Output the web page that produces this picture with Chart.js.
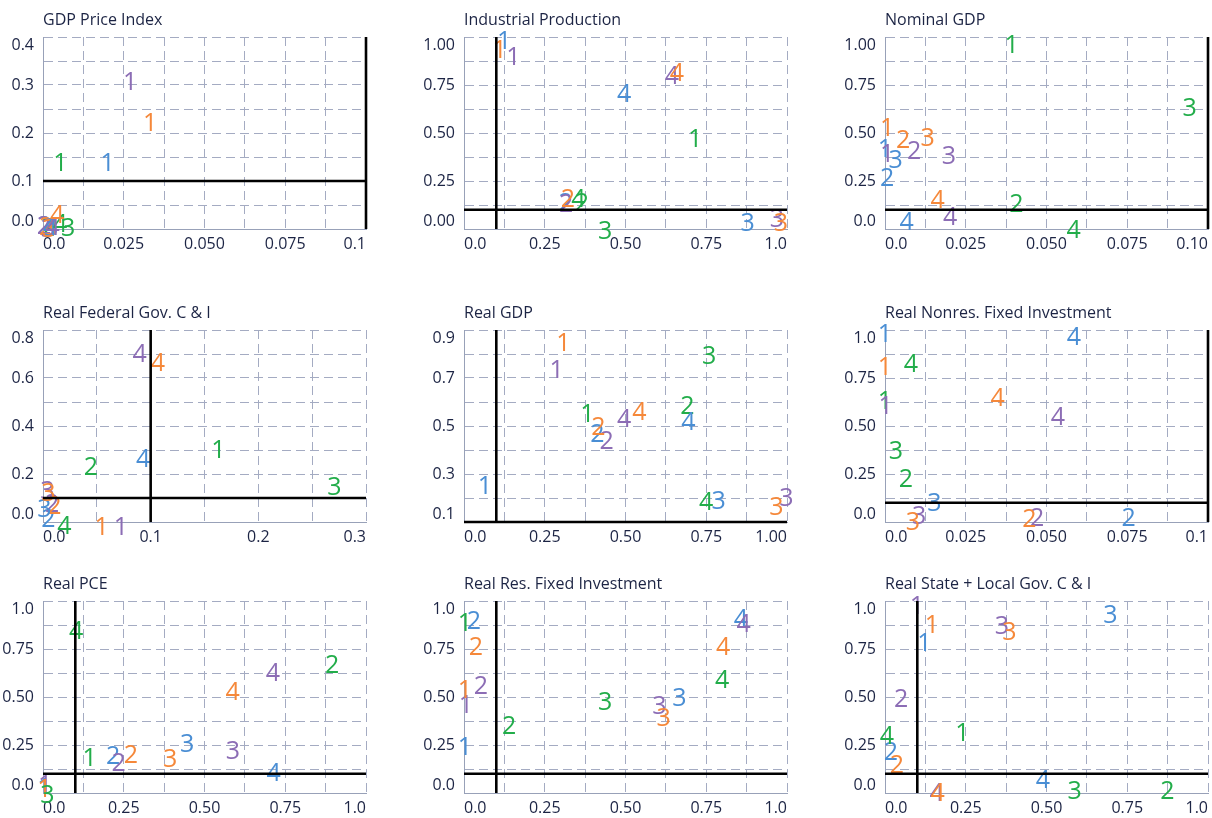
<!DOCTYPE html>
<html>
<head>
<meta charset="utf-8">
<title>Forecast evaluation panels</title>
<script src="https://cdn.jsdelivr.net/npm/chart.js@4.4.0/dist/chart.umd.min.js"></script>
<style>
  html, body { margin: 0; padding: 0; background: #fff; overflow: hidden; }
  body { width: 1212px; height: 818px; position: relative; }
  canvas { position: absolute; }
</style>
</head>
<body>
<canvas id="p0"></canvas>
<canvas id="p1"></canvas>
<canvas id="p2"></canvas>
<canvas id="p3"></canvas>
<canvas id="p4"></canvas>
<canvas id="p5"></canvas>
<canvas id="p6"></canvas>
<canvas id="p7"></canvas>
<canvas id="p8"></canvas>
<script>
// Point labels (1-4) and the reference line value
const pointLabels = ['1', '2', '3', '4'];
const threshold = 0.1;

// Series colours: blue, green, purple, orange (drawing order)
const seriesColors = ['#4a8ed4', '#22ad4a', '#8c6db5', '#f5883a'];

// Tick labels
const ticksTenth = ['0.0', '0.025', '0.050', '0.075', '0.1'];
const ticksTenth10 = ['0.0', '0.025', '0.050', '0.075', '0.10'];
const ticksUnit = ['0.0', '0.25', '0.50', '0.75', '1.0'];
const ticksUnit00 = ['0.00', '0.25', '0.50', '0.75', '1.00'];
const ticksUnitEnd00 = ['0.0', '0.25', '0.50', '0.75', '1.00'];
const ticksPriceY = ['0.0', '0.1', '0.2', '0.3', '0.4'];
const ticksFedX = ['0.0', '0.1', '0.2', '0.3'];
const ticksFedY = ['0.0', '0.2', '0.4', '0.6', '0.8'];
const ticksGdpY = ['0.1', '0.3', '0.5', '0.7', '0.9'];

// [x, y] for labels 1..4, one array per series
// GDP Price Index
const gdpPriceBlue   = [[0.020, 0.139], [0.0004, 0.008], [0.0025, 0.004], [0.0022, 0.006]];
const gdpPriceGreen  = [[0.0054, 0.1405], [0.0015, 0.005], [0.0078, 0.005], [0.0053, 0.013]];
const gdpPricePurple = [[0.027, 0.308], [0.0003, 0.009], [0.0015, 0.003], [0.003, 0.007]];
const gdpPriceOrange = [[0.0332, 0.2235], [0.001, 0.006], [0.002, 0.003], [0.0044, 0.032]];

// Industrial Production
const indProdBlue   = [[0.124, 0.983], [0.315, 0.143], [0.878, 0.035], [0.496, 0.706]];
const indProdGreen  = [[0.716, 0.472], [0.365, 0.142], [0.437, -0.005], [0.354, 0.161]];
const indProdPurple = [[0.153, 0.900], [0.316, 0.137], [0.969, 0.057], [0.644, 0.800]];
const indProdOrange = [[0.110, 0.939], [0.322, 0.163], [0.981, 0.035], [0.659, 0.818]];

// Nominal GDP
const nomGdpBlue   = [[0.0, 0.420], [0.0007, 0.273], [0.0033, 0.363], [0.0067, 0.040]];
const nomGdpGreen  = [[0.0392, 0.965], [0.0407, 0.138], [0.0943, 0.633], [0.0584, -0.002]];
const nomGdpPurple = [[0.0007, 0.394], [0.009, 0.412], [0.0198, 0.386], [0.0202, 0.066]];
const nomGdpOrange = [[0.0007, 0.533], [0.0056, 0.467], [0.0132, 0.4775], [0.0163, 0.156]];

// Real Federal Gov. C & I
const fedGovBlue   = [null, [0.005, 0.018], [0.0012, 0.059], [0.0929, 0.266]];
const fedGovGreen  = [[0.163, 0.3036], [0.0446, 0.2315], [0.2706, 0.148], [0.0198, -0.011]];
const fedGovPurple = [[0.0724, -0.018], [0.0086, 0.080], [0.004, 0.134], [0.0898, 0.706]];
const fedGovOrange = [[0.0544, -0.018], [0.0105, 0.072], [0.005, 0.126], [0.1068, 0.668]];

// Real GDP
const realGdpBlue   = [[0.065, 0.255], [0.413, 0.470], [0.788, 0.190], [0.695, 0.519]];
const realGdpGreen  = [[0.382, 0.553], [0.692, 0.588], [0.759, 0.796], [0.750, 0.186]];
const realGdpPurple = [[0.287, 0.736], [0.442, 0.4425], [0.998, 0.204], [0.496, 0.5326]];
const realGdpOrange = [[0.308, 0.8515], [0.416, 0.498], [0.967, 0.168], [0.543, 0.5645]];

// Real Nonres. Fixed Investment
const nonresBlue   = [[0.0, 0.983], [0.0754, 0.024], [0.0153, 0.104], [0.0585, 0.969]];
const nonresGreen  = [[0.0, 0.636], [0.0065, 0.229], [0.0034, 0.3726], [0.008, 0.827]];
const nonresPurple = [[0.0002, 0.610], [0.0471, 0.024], [0.0106, 0.038], [0.0535, 0.553]];
const nonresOrange = [[0.0, 0.813], [0.0447, 0.020], [0.0086, 0.003], [0.0349, 0.653]];

// Real PCE
const pceBlue   = [[0.004, 0.030], [0.217, 0.196], [0.446, 0.260], [0.714, 0.109]];
const pceGreen  = [[0.1445, 0.1875], [0.895, 0.670], [0.014, -0.003], [0.103, 0.847]];
const pcePurple = [[0.007, 0.045], [0.234, 0.161], [0.588, 0.226], [0.712, 0.630]];
const pceOrange = [[0.004, 0.025], [0.272, 0.201], [0.394, 0.184], [0.587, 0.531]];

// Real Res. Fixed Investment
const resBlue   = [[0.003, 0.243], [0.031, 0.903], [0.667, 0.500], [0.857, 0.913]];
const resGreen  = [[0.003, 0.890], [0.140, 0.356], [0.437, 0.479], [0.799, 0.595]];
const resPurple = [[0.006, 0.465], [0.052, 0.561], [0.605, 0.457], [0.866, 0.885]];
const resOrange = [[0.003, 0.543], [0.037, 0.764], [0.618, 0.396], [0.802, 0.764]];

// Real State + Local Gov. C & I
const stateBlue   = [[0.122, 0.786], [0.0186, 0.219], [0.698, 0.930], [0.489, 0.075]];
const stateGreen  = [[0.240, 0.318], [0.874, 0.014], [0.587, 0.017], [0.006, 0.300]];
const statePurple = [[0.099, 0.977], [0.050, 0.497], [0.362, 0.873], [0.160, 0.005]];
const stateOrange = [[0.145, 0.878], [0.037, 0.149], [0.385, 0.844], [0.163, 0.003]];

const panels = [
  { title: 'GDP Price Index', x: [0, 0.1, 0.0125], y: [0, 0.4, 0.05], xTicks: ticksTenth, yTicks: ticksPriceY,
    series: [gdpPriceBlue, gdpPriceGreen, gdpPricePurple, gdpPriceOrange] },
  { title: 'Industrial Production', x: [0, 1, 0.125], y: [0, 1, 0.125], xTicks: ticksUnit, yTicks: ticksUnit00,
    series: [indProdBlue, indProdGreen, indProdPurple, indProdOrange] },
  { title: 'Nominal GDP', x: [0, 0.1, 0.0125], y: [0, 1, 0.125], xTicks: ticksTenth10, yTicks: ticksUnitEnd00,
    series: [nomGdpBlue, nomGdpGreen, nomGdpPurple, nomGdpOrange] },
  { title: 'Real Federal Gov. C & I', x: [0, 0.3, 0.05], y: [0, 0.8, 0.1], xTicks: ticksFedX, yTicks: ticksFedY,
    series: [fedGovBlue, fedGovGreen, fedGovPurple, fedGovOrange] },
  { title: 'Real GDP', x: [0, 1, 0.125], y: [0.1, 0.9, 0.1], xTicks: ticksUnitEnd00, yTicks: ticksGdpY,
    series: [realGdpBlue, realGdpGreen, realGdpPurple, realGdpOrange] },
  { title: 'Real Nonres. Fixed Investment', x: [0, 0.1, 0.0125], y: [0, 1, 0.125], xTicks: ticksTenth, yTicks: ticksUnit,
    series: [nonresBlue, nonresGreen, nonresPurple, nonresOrange] },
  { title: 'Real PCE', x: [0, 1, 0.125], y: [0, 1, 0.125], xTicks: ticksUnit, yTicks: ticksUnit,
    series: [pceBlue, pceGreen, pcePurple, pceOrange] },
  { title: 'Real Res. Fixed Investment', x: [0, 1, 0.125], y: [0, 1, 0.125], xTicks: ticksUnit, yTicks: ticksUnit,
    series: [resBlue, resGreen, resPurple, resOrange] },
  { title: 'Real State + Local Gov. C & I', x: [0, 1, 0.125], y: [0, 1, 0.125], xTicks: ticksUnit, yTicks: ticksUnit,
    series: [stateBlue, stateGreen, statePurple, stateOrange] }
];

// Look
const fontFamily = '"Open Sans", "Noto Sans", sans-serif';
const inkColor = '#1c2444';
const gridColor = '#a4abc2';
const axisColor = '#98a1b8';
const colLefts = [43, 464, 885];
const rowTops = [37, 330, 601];
const plotW = 323, plotH = 192;
const yAxisW = 43, xAxisH = 30, titleH = 34, padRight = 12;

// First/last y labels sit inside the axis range
const flushYLabels = {
  id: 'flushYLabels',
  beforeDraw(chart) {
    const items = chart.scales.y.getLabelItems();
    if (!items.length) return;
    items[0].options.textBaseline = 'bottom';
    items[items.length - 1].options.textBaseline = 'top';
  }
};

// Draw each point as its number, glyph centred on the point
const numberMarks = {
  id: 'numberMarks',
  beforeDatasetsDraw(chart) {
    const ctx = chart.ctx;
    ctx.save();
    ctx.font = '25px ' + fontFamily;
    ctx.textAlign = 'center';
    ctx.textBaseline = 'alphabetic';
    const half = ctx.measureText('1234').actualBoundingBoxAscent / 2;
    pointLabels.forEach((label, k) => {
      chart.data.datasets.forEach((ds, i) => {
        if (!ds.markColor) return;
        const raw = ds.data[k];
        if (!raw || raw.x == null) return;
        const el = chart.getDatasetMeta(i).data[k];
        ctx.fillStyle = ds.markColor;
        ctx.fillText(label, el.x, el.y + half);
      });
    });
    ctx.restore();
  }
};

function axisOptions(range, labels, horizontal) {
  const [min, max, step] = range;
  return {
    type: 'linear',
    min: min,
    max: max,
    afterBuildTicks: scale => {
      const n = Math.round((max - min) / step);
      const ticks = [];
      for (let i = 0; i <= n; i++) ticks.push({ value: min + i * step });
      scale.ticks = ticks;
    },
    afterFit: scale => {
      if (horizontal) scale.height = xAxisH;
      else scale.width = yAxisW;
    },
    grid: { color: gridColor, lineWidth: 1, drawTicks: false },
    border: { display: true, color: axisColor, width: 1, dash: [9, 5] },
    ticks: {
      autoSkip: false,
      maxRotation: 0,
      padding: horizontal ? 6 : 9,
      align: horizontal ? 'inner' : 'center',
      color: inkColor,
      font: { family: fontFamily, size: 16 },
      callback: (value, index) => index % 2 === 0 ? labels[index / 2] : ''
    }
  };
}

function makePanel(panel, idx) {
  const canvas = document.getElementById('p' + idx);
  canvas.width = yAxisW + plotW + padRight;
  canvas.height = titleH + plotH + xAxisH;
  canvas.style.left = (colLefts[idx % 3] - yAxisW) + 'px';
  canvas.style.top = (rowTops[Math.floor(idx / 3)] - titleH) + 'px';

  const datasets = panel.series.map((pts, s) => ({
    data: pts.map(p => p ? { x: p[0], y: p[1] } : { x: null, y: null }),
    markColor: seriesColors[s],
    pointRadius: 0,
    pointHoverRadius: 0,
    showLine: false,
    clip: false
  }));

  // reference lines at the threshold
  const ruleStyle = { showLine: true, borderColor: '#000', borderWidth: 2.6, pointRadius: 0, clip: false };
  datasets.push(Object.assign({ data: [{ x: threshold, y: panel.y[0] }, { x: threshold, y: panel.y[1] }] }, ruleStyle));
  datasets.push(Object.assign({ data: [{ x: panel.x[0], y: threshold }, { x: panel.x[1], y: threshold }] }, ruleStyle));

  new Chart(canvas, {
    type: 'scatter',
    data: { datasets: datasets },
    options: {
      responsive: false,
      animation: false,
      events: [],
      layout: { padding: { left: 0, right: padRight, top: 0, bottom: 0 } },
      plugins: {
        legend: { display: false },
        tooltip: { enabled: false },
        title: {
          display: true,
          text: panel.title,
          align: 'start',
          fullSize: false,
          color: inkColor,
          font: { family: fontFamily, size: 16, weight: 'normal', lineHeight: 1.125 },
          padding: { top: 8, bottom: 8 }
        }
      },
      scales: {
        x: axisOptions(panel.x, panel.xTicks, true),
        y: axisOptions(panel.y, panel.yTicks, false)
      }
    },
    plugins: [flushYLabels, numberMarks]
  });
}

panels.forEach(makePanel);
</script>
</body>
</html>
